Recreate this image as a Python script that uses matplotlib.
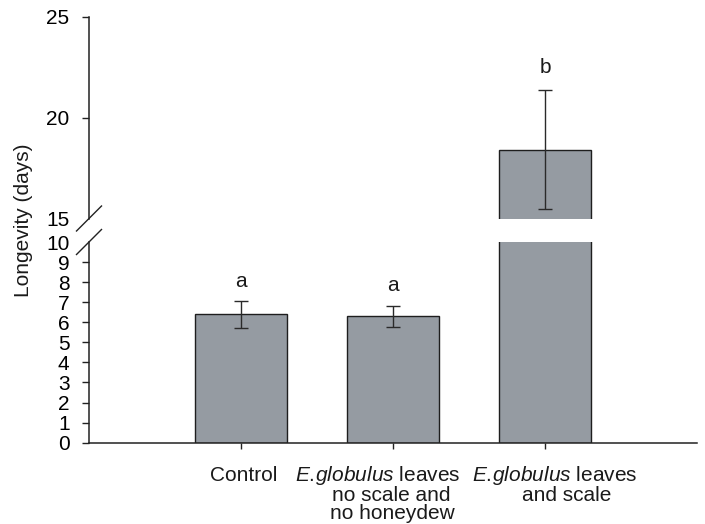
import matplotlib
matplotlib.use("Agg")
import matplotlib.pyplot as plt
import matplotlib.transforms as mtrans
import numpy as np

plt.rcParams['font.family'] = ['Liberation Sans', 'DejaVu Sans']
plt.rcParams['mathtext.fontset'] = 'custom'
plt.rcParams['mathtext.it'] = 'Liberation Sans:italic'
plt.rcParams['mathtext.rm'] = 'Liberation Sans'

# ---- data ----
category_lines = [
    ["Control"],
    ["$\\mathit{E.\\!globulus}$ leaves", "no scale and", "no honeydew"],
    ["$\\mathit{E.\\!globulus}$ leaves", "and scale"],
]
means = [6.4, 6.3, 18.4]
errors = [0.68, 0.52, 2.95]
letters = ["a", "a", "b"]
letter_y = [7.75, 7.55, 22.2]
lower_ticks = [0, 1, 2, 3, 4, 5, 6, 7, 8, 9, 10]
upper_ticks = [15, 20, 25]
lower_lim = (0, 10)
upper_lim = (15, 25)

# label line horizontal offsets (px) relative to bar centre, as in the original artwork
line_dx = [[3], [-15, -2, -1], [10, 22]]
line_dy = [38, 58, 76]  # baseline distance (px) below the x axis

bar_color = "#959ba2"
edge_color = "#1e1e1e"
err_color = "#2a2a2a"
spine_color = "#222222"
fs = 15

W, H = 705, 524
fig = plt.figure(figsize=(W / 100, H / 100), dpi=100)
left = 89 / W
width = (697 - 89) / W
ax_up = fig.add_axes([left, 1 - 218.5 / H, width, (218.5 - 16.7) / H])
ax_lo = fig.add_axes([left, 1 - 442.7 / H, width, (442.7 - 242.0) / H])

x = np.arange(len(category_lines))
for ax in (ax_up, ax_lo):
    ax.bar(x, means, width=0.6, color=bar_color, edgecolor=edge_color, linewidth=1.0, zorder=2)
    ax.set_xlim(-1, 3)
    for s in ("top", "right"):
        ax.spines[s].set_visible(False)
    ax.spines["left"].set_color(spine_color)
    ax.spines["left"].set_linewidth(1.1)
    ax.tick_params(axis="y", direction="out", length=5, width=1.0, pad=9,
                   labelsize=fs, color=spine_color)

# error bars: draw in whichever axes contain them
for i in range(len(means)):
    target = ax_lo if means[i] + errors[i] <= lower_lim[1] else ax_up
    target.errorbar(x[i], means[i], yerr=errors[i], fmt="none", ecolor=err_color,
                    elinewidth=1.0, capsize=5, capthick=1.0, zorder=3)

# significance letters
for i, (lt, ly) in enumerate(zip(letters, letter_y)):
    target = ax_lo if ly <= lower_lim[1] else ax_up
    target.text(x[i], ly, lt, ha="center", va="baseline", fontsize=fs, color="#1a1a1a")

# upper axes
ax_up.set_ylim(*upper_lim)
ax_up.set_yticks(upper_ticks)
ax_up.spines["bottom"].set_visible(False)
ax_up.tick_params(axis="x", bottom=False, labelbottom=False)
ax_up.yaxis.get_major_ticks()[0].tick1line.set_visible(False)

# lower axes
ax_lo.set_ylim(*lower_lim)
ax_lo.set_yticks(lower_ticks)
ax_lo.yaxis.get_major_ticks()[-1].tick1line.set_visible(False)
ax_lo.spines["bottom"].set_color(spine_color)
ax_lo.spines["bottom"].set_linewidth(1.1)
ax_lo.set_xticks(x)
ax_lo.set_xticklabels([""] * len(x))
ax_lo.tick_params(axis="x", direction="out", length=4.5, width=1.0, color=spine_color)

# category labels, one text per line
base_tr = ax_lo.get_xaxis_transform()
for i, lines in enumerate(category_lines):
    for j, line in enumerate(lines):
        off = mtrans.ScaledTranslation(line_dx[i][j] / 100, -line_dy[j] / 100, fig.dpi_scale_trans)
        ax_lo.text(x[i], 0, line, transform=base_tr + off, ha="center", va="baseline",
                   fontsize=fs, color="#1a1a1a", clip_on=False)

# break marks
for ax in (ax_up, ax_lo):
    bb = ax.get_position()
    dx = 12.5 / (bb.width * W)
    dy = 12.5 / (bb.height * H)
    y0 = 0 if ax is ax_up else 1
    ax.plot([-dx, dx], [y0 - dy, y0 + dy], transform=ax.transAxes, color=spine_color,
            linewidth=1.0, clip_on=False, zorder=5)

fig.text(24 / W, 1 - 220 / H, "Longevity (days)", rotation=90, ha="center", va="center",
         fontsize=fs, color="#1a1a1a")

fig.savefig("out.png", dpi=100)
